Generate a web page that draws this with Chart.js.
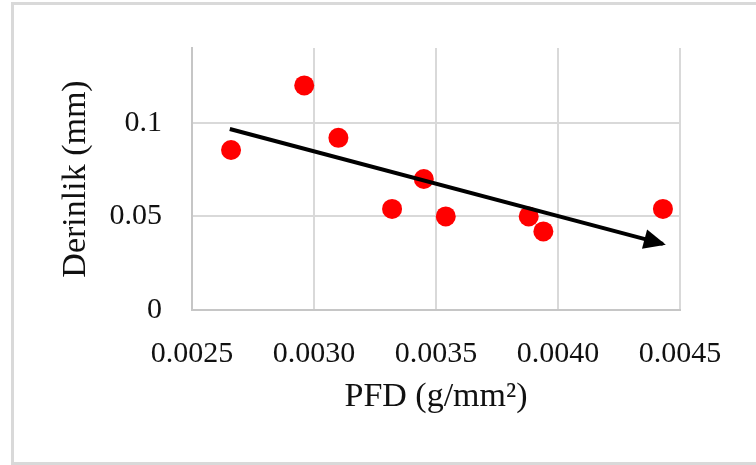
<!doctype html>
<html lang="tr">

<head>
    <meta charset="utf-8">
    <title>Derinlik - PFD</title>
    <script src="https://cdn.jsdelivr.net/npm/chart.js@4.4.0/dist/chart.umd.min.js"></script>
    <style>
        body { margin: 0; background: #fff; }
        #wrap { position: relative; width: 756px; height: 465px; overflow: hidden; }
        #frame {
            position: absolute; left: 11px; top: 2px; width: 760px; height: 463px;
            box-sizing: border-box; border: 3px solid #d9d9d9; border-right: none;
        }
        #chart { position: absolute; left: 0; top: 0; }
    </style>
</head>

<body>
    <div id="wrap">
        <div id="frame"></div>
        <canvas id="chart" width="756" height="465"></canvas>
    </div>

    <script>
        // degerler
        var pfd = [0.00266, 0.00296, 0.00310, 0.00332, 0.00345, 0.00354, 0.00388, 0.00394, 0.00443];
        var derinlik = [0.0855, 0.120, 0.092, 0.054, 0.070, 0.050, 0.050, 0.042, 0.054];

        // ok (trend) baslangic ve bitis
        var okX = [0.002655, 0.00443];
        var okY = [0.0967, 0.0353];

        var xTicks = [0.0025, 0.0030, 0.0035, 0.0040, 0.0045];
        var yTicks = [0, 0.05, 0.1];

        var serif = "'Liberation Serif', 'Times New Roman', serif";

        var noktalar = [];
        for (var i = 0; i < pfd.length; i++) {
            noktalar.push({ x: pfd[i], y: derinlik[i] });
        }
        var okNoktalar = [];
        for (var j = 0; j < okX.length; j++) {
            okNoktalar.push({ x: okX[j], y: okY[j] });
        }

        // okun ucunu ciz
        var okUcu = {
            id: 'okUcu',
            afterDatasetsDraw: function (chart) {
                var pts = chart.getDatasetMeta(0).data;
                var a = pts[pts.length - 2], b = pts[pts.length - 1];
                var ang = Math.atan2(b.y - a.y, b.x - a.x);
                var ctx = chart.ctx;
                ctx.save();
                ctx.translate(b.x, b.y);
                ctx.rotate(ang);
                ctx.fillStyle = '#000';
                ctx.beginPath();
                ctx.moveTo(3, 0);
                ctx.lineTo(-19, -10);
                ctx.lineTo(-19, 10);
                ctx.closePath();
                ctx.fill();
                ctx.restore();
            }
        };

        new Chart(document.getElementById('chart').getContext('2d'), {
            type: 'scatter',
            data: {
                datasets: [{
                    data: okNoktalar,
                    showLine: true,
                    borderColor: '#000',
                    borderWidth: 4,
                    pointRadius: 0,
                    order: 0
                }, {
                    data: noktalar,
                    backgroundColor: '#ff0000',
                    borderWidth: 0,
                    pointRadius: 10,
                    order: 1
                }]
            },
            options: {
                responsive: false,
                animation: false,
                layout: { padding: { left: 0, top: 43, right: 76, bottom: 0 } },
                plugins: { legend: { display: false }, tooltip: { enabled: false } },
                scales: {
                    x: {
                        type: 'linear',
                        min: 0.0025,
                        max: 0.0045,
                        afterBuildTicks: function (s) { s.ticks = xTicks.map(function (v) { return { value: v }; }); },
                        afterFit: function (s) { s.height = 155; },
                        grid: { color: '#d9d9d9', lineWidth: 2, drawTicks: false },
                        border: { color: '#c6c6c6', width: 2 },
                        ticks: {
                            padding: 26,
                            color: '#111',
                            font: { family: serif, size: 30 },
                            maxRotation: 0,
                            callback: function (v) { return v.toFixed(4); }
                        },
                        title: {
                            display: true,
                            text: 'PFD (g/mm²)',
                            color: '#111',
                            font: { family: serif, size: 34 },
                            padding: { top: 0, bottom: 48 }
                        }
                    },
                    y: {
                        min: 0,
                        max: 0.14,
                        afterBuildTicks: function (s) { s.ticks = yTicks.map(function (v) { return { value: v }; }); },
                        afterFit: function (s) { s.width = 192; },
                        grid: { color: '#d9d9d9', lineWidth: 2, drawTicks: false },
                        border: { color: '#c6c6c6', width: 2 },
                        ticks: {
                            padding: 30,
                            color: '#111',
                            font: { family: serif, size: 30 },
                            callback: function (v) { return String(v); }
                        },
                        title: {
                            display: true,
                            text: 'Derinlik (mm)',
                            color: '#111',
                            font: { family: serif, size: 34 },
                            padding: { top: 56, bottom: 0 }
                        }
                    }
                }
            },
            plugins: [okUcu]
        });
    </script>
</body>

</html>
